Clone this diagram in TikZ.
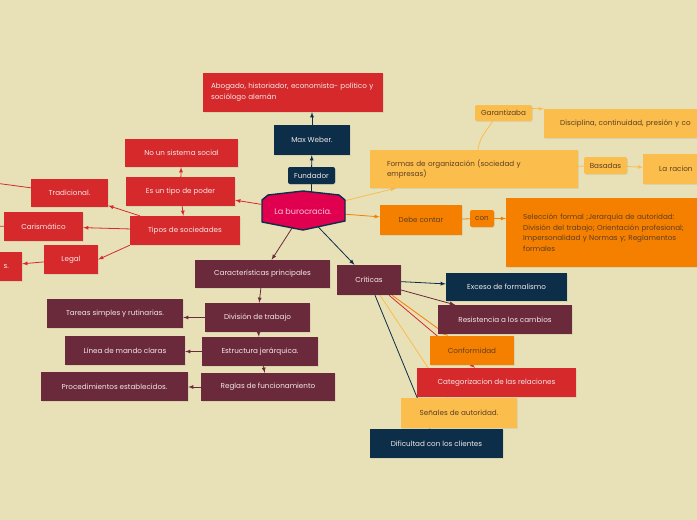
\documentclass[tikz,border=0pt]{standalone}
\usepackage{fontspec}
\setmainfont{Poppins}
\usetikzlibrary{positioning,shapes,shadows,arrows}
\pgfdeclarelayer{links}
\pgfsetlayers{links,main}
\definecolor{bgcream}{HTML}{E8E1B8}
\definecolor{burored}{HTML}{D6292B}
\definecolor{buronavy}{HTML}{0C2E48}
\definecolor{buromaroon}{HTML}{6B2A3B}
\definecolor{buroorange}{HTML}{F58000}
\definecolor{buroyellow}{HTML}{FBBD4B}
\definecolor{buropink}{HTML}{E1004F}
\definecolor{lighttext}{HTML}{F4E8E8}
\definecolor{darktext}{HTML}{5C3E22}
\definecolor{pinktext}{HTML}{F7C6D6}

\begin{document}
\begin{tikzpicture}[x=1pt, y=-1pt, >=latex,
    every node/.style={font=\fontsize{7.2}{10.8}\selectfont, inner sep=0pt},
    box/.style={rectangle, minimum height=29pt, text=lighttext,
      drop shadow={opacity=0.15, shadow xshift=0.8pt, shadow yshift=-0.8pt}},
    redbox/.style={box, fill=burored},
    navybox/.style={box, fill=buronavy},
    maroonbox/.style={box, fill=buromaroon},
    orangebox/.style={box, fill=buroorange, text=darktext},
    yellowbox/.style={box, fill=buroyellow, text=darktext},
    tag/.style={rounded corners=2pt, minimum height=17pt},
    link/.style={line width=0.8pt},
    hexa/.style={fill=buropink, draw=buronavy, line width=1.4pt, line join=round},
  ]
\useasboundingbox (0,0) rectangle (697,520);

% top
\node[redbox, minimum width=180pt, minimum height=39pt, text width=164pt, align=left] (abogado) at (293,92.5)
  {Abogado, historiador, economista- político y\\sociólogo alemán};
\node[navybox, minimum width=76pt, minimum height=30pt] (weber) at (312,140) {Max Weber.};
\node[navybox, tag, minimum width=47pt] (fundador) at (311.5,175.5) {Fundador};

% center
\begin{scope}[shift={(303,211)}]
  \path[hexa] (-41,-11) -- (-35,-16) -- (0,-20) -- (36,-16) -- (42,-11) -- (42,10) -- (0,19) -- (-41,11) -- cycle;
\end{scope}
\node[minimum width=84pt, minimum height=32pt, text=pinktext, font=\fontsize{8.1}{10}\selectfont] (buro) at (303,211) {La burocracia.};

% left, red
\node[redbox, minimum width=113pt, minimum height=28pt] (nosistema) at (181.5,153) {No un sistema social};
\node[redbox, minimum width=109pt] (poder) at (180.5,191.5) {Es un tipo de poder};
\node[redbox, minimum width=110pt] (tipos) at (185,230.5) {Tipos de sociedades};
\node[redbox, minimum width=77pt, minimum height=28pt] (tradicional) at (69.5,193) {Tradicional.};
\node[redbox, minimum width=79pt] (carismatico) at (43.5,226.5) {Carismático};
\node[redbox, minimum width=54pt] (legal) at (71,259.5) {Legal};
\node[redbox, minimum width=60pt, text width=34pt, inner xsep=13pt, align=right] (legales) at (-8,266.5) {s.};
\coordinate (tradout) at (-20,181);
\coordinate (carisout) at (-20,226);

% left, maroon
\node[maroonbox, minimum width=135pt, minimum height=28pt] (caract) at (262.5,274) {Características principales};
\node[maroonbox, minimum width=105pt] (division) at (257.5,317.5) {División de trabajo};
\node[maroonbox, minimum width=116pt] (estructura) at (260,351.5) {Estructura jerárquica.};
\node[maroonbox, minimum width=134pt, minimum height=28pt] (reglas) at (268,387) {Reglas de funcionamiento};
\node[maroonbox, minimum width=136pt] (tareas) at (115,313.5) {Tareas simples y rutinarias.};
\node[maroonbox, minimum width=120pt] (linea) at (125,350.5) {Línea de mando claras};
\node[maroonbox, minimum width=147pt] (procedim) at (114.5,386.5) {Procedimientos establecidos.};

% criticas
\node[maroonbox, minimum width=64pt, minimum height=30pt] (criticas) at (369,280) {Críticas};
\node[navybox, minimum width=121pt, minimum height=28pt] (exceso) at (506.5,287) {Exceso de formalismo};
\node[maroonbox, minimum width=134pt] (resistencia) at (505,319.5) {Resistencia a los cambios};
\node[orangebox, minimum width=84pt] (conformidad) at (472,350.5) {Conformidad};
\node[redbox, minimum width=159pt] (categoriz) at (496.5,382.5) {Categorizacion de las relaciones};
\node[yellowbox, minimum width=116pt, minimum height=30pt] (senales) at (459,413) {Señales de autoridad.};
\node[navybox, minimum width=133pt] (dificultad) at (436.5,443.5) {Dificultad con los clientes};

% right
\node[yellowbox, minimum width=208pt, minimum height=38pt, text width=174pt, align=left] (formas) at (474,169)
  {Formas de organización (sociedad y\\empresas)};
\node[yellowbox, tag, minimum width=57pt, minimum height=16pt] (garantiza) at (503.5,113) {Garantizaba};
\node[yellowbox, anchor=west, minimum width=220pt, text width=188pt, inner xsep=16pt, align=left] (disciplina) at (544,123.5)
  {Disciplina, continuidad, presión y co};
\node[yellowbox, tag, minimum width=43pt] (basadas) at (605.5,165.5) {Basadas};
\node[yellowbox, anchor=west, minimum width=80pt, minimum height=30pt, text width=48pt, inner xsep=16pt, align=left] (racional) at (643,169)
  {La racion};
\node[orangebox, minimum width=82pt, minimum height=30pt] (debe) at (421,220) {Debe contar};
\node[orangebox, tag, minimum width=24pt] (con) at (482,218.5) {con};
\node[orangebox, anchor=north west, minimum width=240pt, minimum height=69pt, text width=206pt, inner xsep=17pt, align=left] (seleccion) at (506,198)
  {Selección formal ;Jerarquía de autoridad:\\División del trabajo; Orientación profesional;\\Impersonalidad y Normas y; Reglamentos\\formales};

\begin{pgfonlayer}{links}
\fill[bgcream] (0,0) rectangle (697,520);
% top
\draw[link, buronavy] (fundador |- buro.north) -- (fundador);
\draw[link, buronavy, ->] (fundador) -- (weber);
\draw[link, buronavy, ->] (weber.north) -- (weber.north |- abogado.south);
% red branch
\draw[link, burored, ->] (buro) -- (poder);
\draw[link, burored, ->] (poder) -- (nosistema);
\draw[link, burored, ->] (poder) -- (tipos);
\draw[link, burored, ->] (tipos) -- (tradicional);
\draw[link, burored, ->] (tipos) -- (carismatico);
\draw[link, burored, ->] (tipos.south west) -- (legal.east);
\draw[link, burored, ->] (legal) -- (legales);
\draw[link, burored, ->] (tradicional) -- (tradout);
\draw[link, burored, ->] (carismatico) -- (carisout);
% maroon branch
\draw[link, buromaroon, ->] (buro) -- (caract);
\draw[link, buromaroon, ->] (caract) -- (division);
\draw[link, buromaroon, ->] (division) -- (estructura);
\draw[link, buromaroon, ->] (estructura) -- (reglas);
\draw[link, buromaroon, ->] (division.west) -- (division.west -| tareas.east);
\draw[link, buromaroon, ->] (estructura.west) -- (estructura.west -| linea.east);
\draw[link, buromaroon, ->] (reglas.west) -- (reglas.west -| procedim.east);
% criticas
\draw[link, buronavy, ->] (buro) -- (criticas);
\draw[link, buronavy, ->] (criticas) -- (exceso);
\draw[link, buromaroon, ->] ([yshift=-10pt]criticas.east) -- ([xshift=-50pt]resistencia.north);
\draw[link, buroorange, ->] ([xshift=23pt]criticas.south) -- ([xshift=-24pt]conformidad.north);
\draw[link, burored, ->] ([xshift=20pt]criticas.south) -- ([xshift=-21.5pt]categoriz.north);
\draw[link, buroyellow, ->] ([xshift=11pt]criticas.south) -- ([xshift=-11pt]senales.north);
\draw[link, buronavy, ->] ([xshift=6pt]criticas.south) -- ([xshift=-6.5pt]dificultad.north);
% right
\draw[link, buroyellow, ->] (buro) -- (formas);
\draw[link, buroorange, ->] (buro) -- (debe);
\draw[link, buroyellow] ([xshift=4pt]formas.north) .. controls +(2,-15) and +(-4,8) .. ([xshift=-11pt]garantiza.south);
\draw[link, buroyellow, ->] (garantiza.east |- disciplina.north west) -- (disciplina.north west);
\draw[link, buroyellow] (formas) -- (basadas);
\draw[link, buroyellow, ->] (basadas) -- (racional);
\draw[link, buroorange] (debe) -- (con);
\draw[link, buroorange, ->] (con.east) -- (con.east -| seleccion.west);
\end{pgfonlayer}

\end{tikzpicture}
\end{document}
